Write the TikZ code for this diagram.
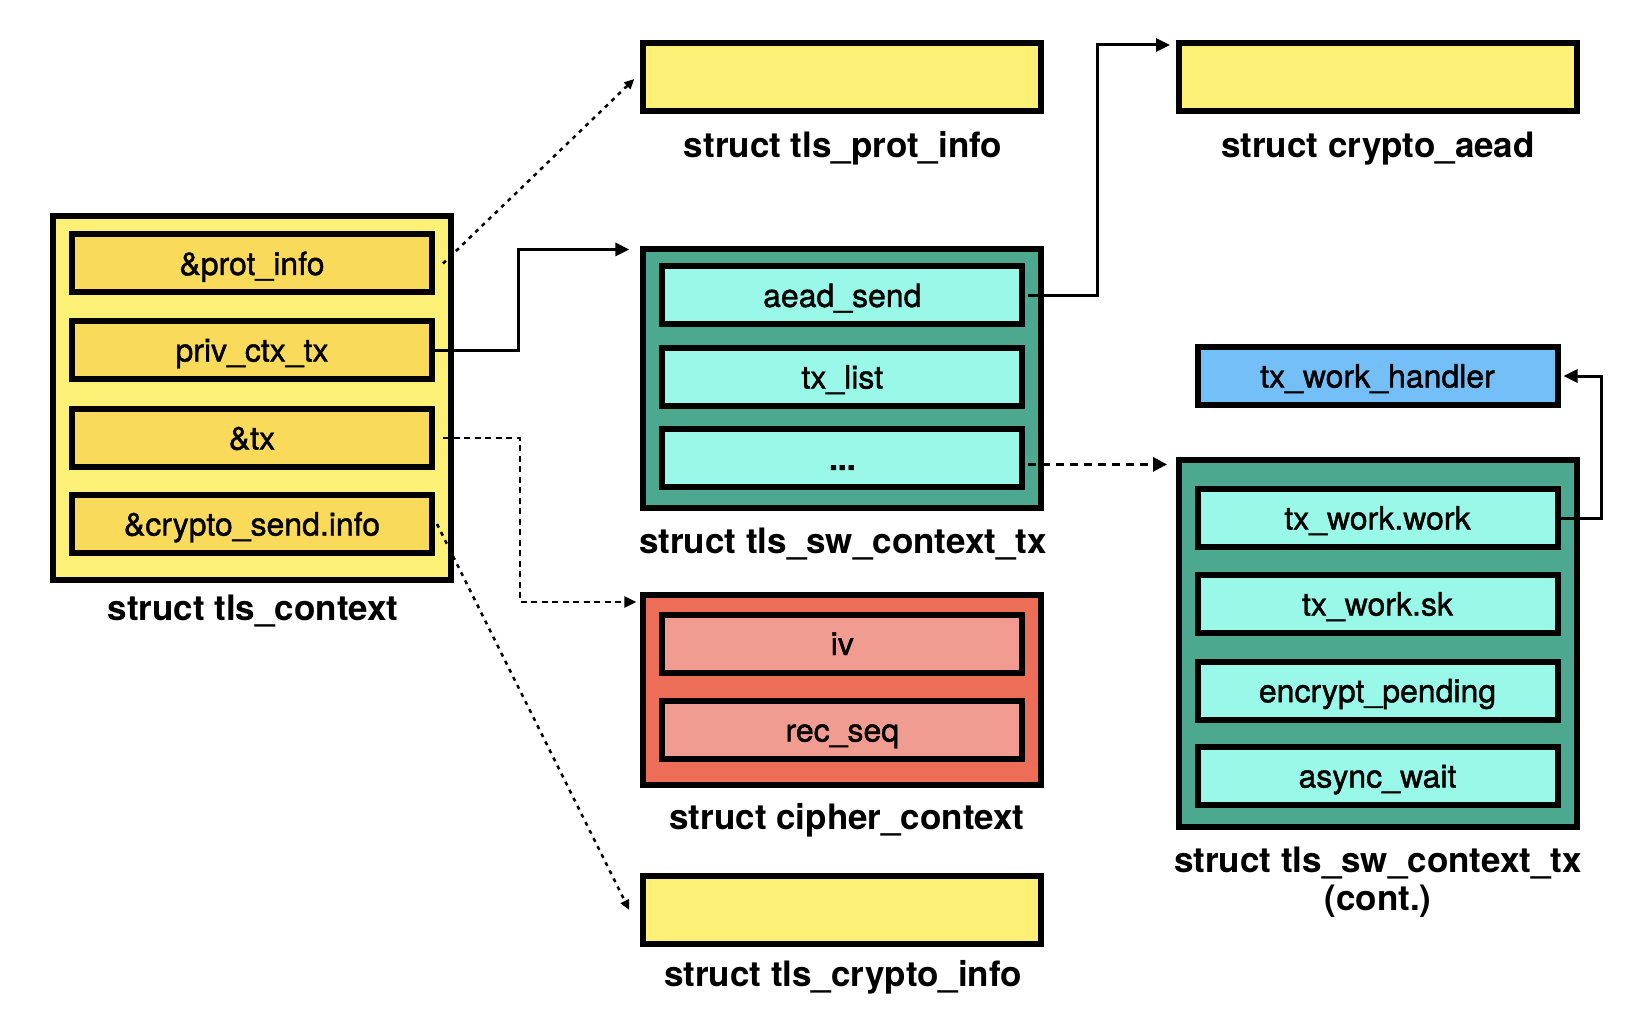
\documentclass[tikz,border=0pt]{standalone}
\usepackage{fontspec}
\setmainfont{TeX Gyre Heros}
\newfontfamily\medfont[FakeBold=1.3]{TeX Gyre Heros}
\usetikzlibrary{arrows.meta,calc}
\definecolor{yOut}{HTML}{FCF077}
\definecolor{yIn}{HTML}{F9DA5B}
\definecolor{tOut}{HTML}{4CA98F}
\definecolor{tIn}{HTML}{9AF8E9}
\definecolor{rOut}{HTML}{EC6E58}
\definecolor{rIn}{HTML}{F09C90}
\definecolor{bIn}{HTML}{74BFF8}
\begin{document}
\begin{tikzpicture}[x=1pt,y=-1pt,
  outerbox/.style={draw=black,line width=6pt,minimum width=398pt,inner sep=0pt},
  field/.style={draw=black,line width=6pt,minimum width=360pt,minimum height=58pt,inner sep=0pt,text height=23pt,text depth=0pt,font=\fontsize{32}{38}\medfont},
  caption/.style={font=\fontsize{35}{38}\selectfont\bfseries,align=center},
  cap1/.style={caption,text height=25pt,text depth=0pt},
  conn/.style={line width=3pt,-{Triangle[length=14pt,width=13pt]}},
  dotconn/.style={line width=2.5pt,dash pattern=on 4pt off 5pt,-{Triangle[length=10pt,width=9pt]}},
  dashconn/.style={line width=2.5pt,dash pattern=on 6pt off 4.5pt,-{Triangle[length=12pt,width=11pt]}},
  bigdash/.style={line width=3.2pt,dash pattern=on 8pt off 6pt,-{Triangle[length=14pt,width=14pt]}}
]
\useasboundingbox (0,0) rectangle (1652,1016);

% struct tls_context
\node[outerbox,fill=yOut,minimum height=363pt] (ctx) at (252,398) {};
\node[field,fill=yIn] (f1) at (252,263.5) {\&prot\_info};
\node[field,fill=yIn] (f2) at (252,350) {priv\_ctx\_tx};
\node[field,fill=yIn] (f3) at (252,438) {\&tx};
\node[field,fill=yIn] (f4) at (252,524) {\&crypto\_send.info};
\node[cap1] (ctxl) at (253,608) {struct tls\_context};

% struct tls_prot_info
\node[outerbox,fill=yOut,minimum height=68pt] (prot) at (842.3,77) {};
\node[cap1] (protl) at (843,145) {struct tls\_prot\_info};

% struct tls_sw_context_tx
\node[outerbox,fill=tOut,minimum height=258.5pt] (sw) at (842.3,378.7) {};
\node[field,fill=tIn] (a1) at (842.3,295.4) {aead\_send};
\node[field,fill=tIn] (a2) at (842.3,377) {tx\_list};
\node[field,fill=tIn] (a3) at (842.3,458.4) {\bfseries ...};
\node[cap1] (swl) at (843,540.5) {struct tls\_sw\_context\_tx};

% struct cipher_context
\node[outerbox,fill=rOut,minimum height=190pt] (ciph) at (842.3,690) {};
\node[field,fill=rIn] (b1) at (842.3,643.5) {iv};
\node[field,fill=rIn] (b2) at (842.3,730) {rec\_seq};
\node[cap1] (ciphl) at (847,816.5) {struct cipher\_context};

% struct tls_crypto_info
\node[outerbox,fill=yOut,minimum height=68pt] (cinfo) at (842.3,910) {};
\node[cap1] (cinfol) at (843,973.5) {struct tls\_crypto\_info};

% struct crypto_aead
\node[outerbox,fill=yOut,minimum height=68pt] (aead) at (1378,77) {};
\node[cap1] (aeadl) at (1378,145) {struct crypto\_aead};

% tx_work_handler
\node[field,fill=bIn] (hand) at (1377.5,376) {tx\_work\_handler};

% struct tls_sw_context_tx (cont.)
\node[outerbox,fill=tOut,minimum height=367pt] (cont) at (1378,643.5) {};
\node[field,fill=tIn] (c1) at (1377.5,518) {tx\_work.work};
\node[field,fill=tIn] (c2) at (1377.5,604) {tx\_work.sk};
\node[field,fill=tIn] (c3) at (1377.5,690.7) {encrypt\_pending};
\node[field,fill=tIn] (c4) at (1377.5,776) {async\_wait};
\node[caption] (contl) at (1378,882) {struct tls\_sw\_context\_tx\\(cont.)};

% connectors
\draw[dotconn] ([xshift=8pt]f1.east) -- ([xshift=-6pt,yshift=-2pt]prot.west);
\draw[conn] (f2.east) -- ++(83,0) |- ([xshift=-11pt,yshift=-3pt]sw.north west);
\draw[dashconn] ([xshift=8pt]f3.east) -- ++(77,0) |- ([xshift=-4pt,yshift=-10pt]ciph.north west);
\draw[dotconn] ([xshift=2pt]f4.east) -- ([xshift=-11pt]cinfo.west);
\draw[conn] ([xshift=3pt]a1.east) -- ++(69,0) |- ([xshift=-6pt,yshift=-5pt]aead.north west);
\draw[bigdash] ([xshift=3pt,yshift=-6pt]a3.east) -- ([xshift=-9pt,yshift=-6pt]cont.north west |- a3.east);
\draw[conn] (c1.east) -- ++(41,0) |- ([xshift=3pt]hand.east);
\end{tikzpicture}
\end{document}
